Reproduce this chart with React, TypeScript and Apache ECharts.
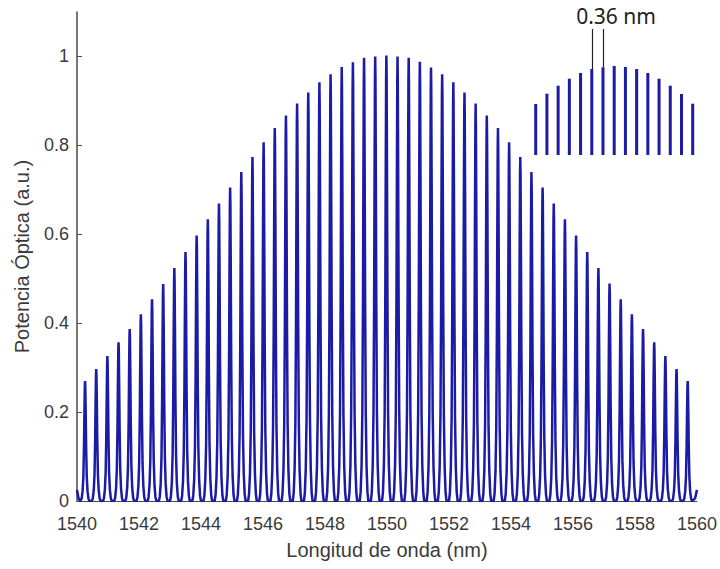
import React, { useEffect, useRef } from "react";
import * as echarts from "echarts";

// Peak wavelengths (nm) of the comb
const peakWavelengths = [
  1540.26, 1540.62, 1540.98, 1541.34, 1541.70, 1542.06, 1542.42, 1542.78, 1543.14, 1543.50,
  1543.86, 1544.22, 1544.58, 1544.94, 1545.30, 1545.66, 1546.02, 1546.38, 1546.74, 1547.10,
  1547.46, 1547.82, 1548.18, 1548.54, 1548.90, 1549.26, 1549.62, 1549.98, 1550.34, 1550.70,
  1551.06, 1551.42, 1551.78, 1552.14, 1552.50, 1552.86, 1553.22, 1553.58, 1553.94, 1554.30,
  1554.66, 1555.02, 1555.38, 1555.74, 1556.10, 1556.46, 1556.82, 1557.18, 1557.54, 1557.90,
  1558.26, 1558.62, 1558.98, 1559.34, 1559.70,
];
// Peak optical power (a.u.)
const peakPowers = [
  0.270, 0.297, 0.326, 0.357, 0.387, 0.420, 0.454, 0.488, 0.524, 0.560,
  0.597, 0.634, 0.669, 0.705, 0.740, 0.774, 0.807, 0.839, 0.867, 0.894,
  0.919, 0.942, 0.960, 0.976, 0.987, 0.997, 1.000, 1.002, 1.000, 0.997,
  0.988, 0.975, 0.960, 0.942, 0.919, 0.894, 0.867, 0.839, 0.807, 0.774,
  0.740, 0.705, 0.669, 0.634, 0.597, 0.560, 0.524, 0.489, 0.454, 0.420,
  0.387, 0.357, 0.326, 0.297, 0.270,
];
// Line shape of a single comb line (offset in nm, fraction of the peak)
const profileOffsets = [-0.14, -0.11, -0.08, -0.055, -0.035, -0.02, -0.008, 0, 0.008, 0.02, 0.035, 0.055, 0.08, 0.11, 0.14];
const profileLevels = [0, 0.02, 0.08, 0.2, 0.45, 0.75, 0.95, 1, 0.95, 0.75, 0.45, 0.2, 0.08, 0.02, 0];
// Tails of the neighbouring (out-of-range) lines at both ends
const leadingTail = [[1540.0, 0.025], [1540.05, 0.006], [1540.1, 0]];
const trailingTail = [[1559.86, 0], [1559.94, 0.006], [1560.0, 0.025]];

const yTickValues = [0, 0.2, 0.4, 0.6, 0.8, 1];

// Inset: zoom on 15 central lines
const insetIndex = [0, 1, 2, 3, 4, 5, 6, 7, 8, 9, 10, 11, 12, 13, 14];
const insetPowers = [0.51, 0.613, 0.693, 0.763, 0.82, 0.86, 0.877, 0.89, 0.88, 0.86, 0.82, 0.763, 0.693, 0.61, 0.513];
const spacingMarkIndex = [5, 6];
const spacingMarkTop = 1.26;
const spacingLabel = "0.36 nm";

const BLUE = "#1b1ba6";
const AXIS = "#4a4a4a";
const TEXT = "#3a3a3a";

export default function App() {
  const ref = useRef<HTMLDivElement>(null);

  useEffect(() => {
    if (!ref.current) return;
    const chart = echarts.init(ref.current, undefined, { renderer: "svg" });

    const trace: number[][] = [...leadingTail];
    peakWavelengths.forEach((c, i) => {
      profileOffsets.forEach((o, k) => {
        trace.push([+(c + o).toFixed(4), peakPowers[i] * profileLevels[k]]);
      });
    });
    trace.push(...trailingTail);

    const insetData = insetIndex.map((x, i) => [x, insetPowers[i]]);
    const markData = spacingMarkIndex.map((x) => [
      { coord: [x, insetPowers[x]] },
      { coord: [x, spacingMarkTop] },
    ]);

    chart.setOption({
      animation: false,
      backgroundColor: "#ffffff",
      textStyle: { fontFamily: "Liberation Sans" },
      grid: [
        { left: 77, right: 22, top: 12, bottom: 68 },
        { left: 530.1, right: 21.7, top: 15, height: 140 },
      ],
      xAxis: [
        {
          type: "value",
          gridIndex: 0,
          min: 1540,
          max: 1560,
          interval: 2,
          name: "Longitud de onda (nm)",
          nameLocation: "middle",
          nameGap: 39,
          nameTextStyle: { fontSize: 20, color: TEXT, fontFamily: "Liberation Sans" },
          axisLine: { show: true, lineStyle: { color: AXIS, width: 1 } },
          axisTick: { show: false },
          axisLabel: {
            fontSize: 18,
            color: TEXT,
            margin: 14,
            fontFamily: "Liberation Sans",
            formatter: (v: number) => String(v),
          },
          splitLine: { show: false },
        },
        {
          type: "value",
          gridIndex: 1,
          min: -0.5,
          max: 14.5,
          show: false,
        },
      ],
      yAxis: [
        {
          type: "value",
          gridIndex: 0,
          min: 0,
          max: 1.1,
          interval: 0.2,
          name: "Potencia Óptica (a.u.)",
          nameLocation: "middle",
          nameGap: 45,
          nameTextStyle: { fontSize: 20, color: TEXT, fontFamily: "Liberation Sans" },
          axisLine: { show: true, lineStyle: { color: AXIS, width: 1.5 } },
          axisTick: {
            show: true,
            inside: true,
            length: 5,
            customValues: yTickValues,
            lineStyle: { color: AXIS, width: 1 },
          },
          axisLabel: {
            fontSize: 18,
            color: TEXT,
            margin: 8,
            fontFamily: "Liberation Sans",
            customValues: yTickValues,
            formatter: (v: number) => String(Math.round(v * 10) / 10),
          },
          splitLine: { show: false },
        },
        {
          type: "value",
          gridIndex: 1,
          min: 0,
          max: 1.4,
          show: false,
        },
      ],
      series: [
        {
          type: "line",
          xAxisIndex: 0,
          yAxisIndex: 0,
          data: trace,
          showSymbol: false,
          symbol: "none",
          lineStyle: { color: BLUE, width: 2.5 },
          silent: true,
        },
        {
          type: "bar",
          xAxisIndex: 1,
          yAxisIndex: 1,
          data: insetData,
          barWidth: 3,
          itemStyle: { color: BLUE },
          silent: true,
          markLine: {
            silent: true,
            symbol: ["none", "none"],
            label: { show: false },
            lineStyle: { color: "#222222", width: 1.2, type: "solid" },
            data: markData,
          },
        },
      ],
      graphic: [
        {
          type: "text",
          x: 616,
          y: 16,
          style: {
            text: spacingLabel,
            align: "center",
            verticalAlign: "middle",
            font: '21px "Noto Sans"',
            fill: "#222222",
          },
        },
      ],
    });

    return () => chart.dispose();
  }, []);

  return (
    <div
      ref={ref}
      style={{ position: "fixed", left: 0, top: 0, width: 720, height: 569 }}
    />
  );
}
